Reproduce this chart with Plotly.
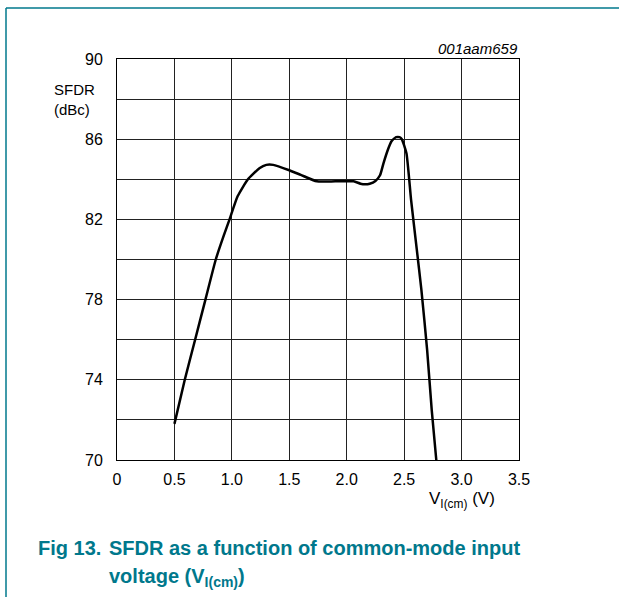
import plotly.graph_objects as go

# ---- data ----
v_icm = [0.5, 0.59, 0.68, 0.77, 0.86, 0.93, 0.98, 1.05, 1.14, 1.24, 1.30, 1.36,
         1.5, 1.6, 1.74, 1.9, 2.06, 2.12, 2.16, 2.2, 2.25, 2.29, 2.32, 2.36,
         2.39, 2.43, 2.46, 2.48, 2.52, 2.56, 2.61, 2.65, 2.70, 2.74, 2.78]
sfdr = [71.8, 74.0, 76.0, 78.0, 80.0, 81.2, 82.0, 83.15, 84.0, 84.55, 84.72, 84.72,
        84.45, 84.22, 83.9, 83.9, 83.9, 83.78, 83.75, 83.78, 83.92, 84.2, 84.8, 85.5,
        85.9, 86.1, 86.1, 86.0, 85.3, 83.0, 80.5, 78.5, 75.5, 72.5, 70.0]

x_tickvals = [0, 0.5, 1.0, 1.5, 2.0, 2.5, 3.0, 3.5]
x_ticktext = ["0", "0.5", "1.0", "1.5", "2.0", "2.5", "3.0", "3.5"]
y_tickvals = [70, 72, 74, 76, 78, 80, 82, 84, 86, 88, 90]
y_ticktext = ["70", "", "74", "", "78", "", "82", "", "86", "", "90"]

W, H = 619, 597
L, R, T, B = 117, 519, 59, 460
TEAL = "#00788c"
FONT = "Liberation Sans, Arial, sans-serif"


def px(xp):
    return (xp - L) / (R - L)


def py(yp):
    return (B - yp) / (B - T)


fig = go.Figure()
fig.add_trace(go.Scatter(x=v_icm, y=sfdr, mode="lines",
                         line=dict(color="black", width=2.5, shape="spline", smoothing=0.5),
                         showlegend=False, hoverinfo="skip"))

fig.update_layout(
    width=W, height=H,
    margin=dict(l=L, r=W - R, t=T, b=H - B),
    paper_bgcolor="white", plot_bgcolor="white",
    font=dict(family=FONT, size=16, color="black"),
    showlegend=False,
)
fig.update_xaxes(range=[0, 3.5], tickvals=x_tickvals, ticktext=x_ticktext,
                 showgrid=True, gridcolor="#222", gridwidth=1, zeroline=False,
                 showline=True, linecolor="black", linewidth=1, mirror=True,
                 ticks="", ticklabelstandoff=5, tickfont=dict(size=16))
fig.update_yaxes(range=[70, 90], tickvals=y_tickvals, ticktext=y_ticktext,
                 showgrid=True, gridcolor="#222", gridwidth=1, zeroline=False,
                 showline=True, linecolor="black", linewidth=1, mirror=True,
                 ticks="", ticklabelstandoff=10, tickfont=dict(size=16))

# teal frame
fig.add_shape(type="line", xref="paper", yref="paper",
              x0=px(6), x1=px(619), y0=py(8), y1=py(8), line=dict(color=TEAL, width=1.5))
fig.add_shape(type="line", xref="paper", yref="paper",
              x0=px(6), x1=px(6), y0=py(8), y1=py(597), line=dict(color=TEAL, width=1.5))

ann = [
    dict(text="SFDR", x=px(52), y=py(90), xanchor="left", yanchor="middle", size=15),
    dict(text="(dBc)", x=px(52), y=py(109), xanchor="left", yanchor="middle", size=15),
    dict(text="<i>001aam659</i>", x=px(520), y=py(48), xanchor="right", yanchor="middle", size=15),
    dict(text="V<sub>I(cm)</sub> (V)", x=px(497), y=py(500), xanchor="right", yanchor="middle", size=17),
]
for a in ann:
    fig.add_annotation(text=a["text"], x=a["x"], y=a["y"], xref="paper", yref="paper",
                       xanchor=a["xanchor"], yanchor=a["yanchor"], showarrow=False,
                       font=dict(family=FONT, size=a["size"], color="black"))

fig.add_annotation(text="<b>Fig 13.</b>", x=px(36), y=py(548), xref="paper", yref="paper",
                   xanchor="left", yanchor="middle", showarrow=False,
                   font=dict(family=FONT, size=20, color=TEAL))
fig.add_annotation(text="<b>SFDR as a function of common-mode input</b>", x=px(107), y=py(548),
                   xref="paper", yref="paper", xanchor="left", yanchor="middle", showarrow=False,
                   font=dict(family=FONT, size=20, color=TEAL))
fig.add_annotation(text="<b>voltage (V<sub>I(cm)</sub>)</b>", x=px(107), y=py(577),
                   xref="paper", yref="paper", xanchor="left", yanchor="middle", showarrow=False,
                   font=dict(family=FONT, size=20, color=TEAL))

fig.write_html("out.html", config={"displayModeBar": False},
               post_script="document.body.style.margin='0';")
